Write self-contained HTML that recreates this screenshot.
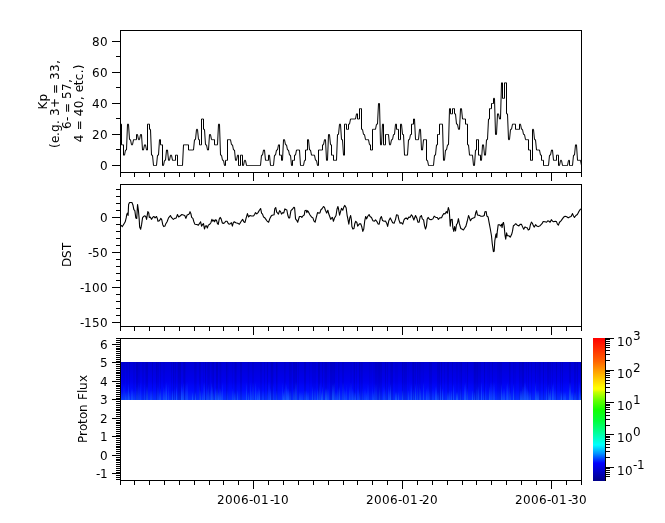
<!DOCTYPE html>
<html><head><meta charset="utf-8"><title>tplot</title><style>html,body{margin:0;padding:0;background:#fff}svg{display:block}</style></head><body>
<svg width="665" height="523" viewBox="0 0 665 523" font-family="DejaVu Sans, Liberation Sans, sans-serif" font-size="12" fill="#000">
<rect width="665" height="523" fill="#fff"/>
<defs><linearGradient id="bg" x1="0" y1="0" x2="0" y2="1"><stop offset="0" stop-color="#0000d4"/><stop offset="0.5" stop-color="#0000ee"/><stop offset="0.75" stop-color="#000cff"/><stop offset="1" stop-color="#0832ff"/></linearGradient><linearGradient id="bl" x1="0" y1="0" x2="0" y2="1"><stop offset="0" stop-color="#1e6eff" stop-opacity="0"/><stop offset="1" stop-color="#1e6eff" stop-opacity="1"/></linearGradient><linearGradient id="cb" x1="0" y1="0" x2="0" y2="1"><stop offset="0" stop-color="#ff0000"/><stop offset="0.085" stop-color="#ff3200"/><stop offset="0.164" stop-color="#ff6400"/><stop offset="0.233" stop-color="#ffa000"/><stop offset="0.30" stop-color="#ffd700"/><stop offset="0.35" stop-color="#ffff00"/><stop offset="0.362" stop-color="#f8ff00"/><stop offset="0.378" stop-color="#c8ff00"/><stop offset="0.43" stop-color="#6eff00"/><stop offset="0.50" stop-color="#14ff00"/><stop offset="0.58" stop-color="#00ff3c"/><stop offset="0.66" stop-color="#00ff96"/><stop offset="0.748" stop-color="#00ffff"/><stop offset="0.806" stop-color="#0096ff"/><stop offset="0.875" stop-color="#0000ff"/><stop offset="1" stop-color="#000087"/></linearGradient></defs>
<g shape-rendering="crispEdges">
<rect x="121" y="362" width="460" height="38" fill="url(#bg)"/>
<rect x="121" y="392" width="1" height="8" fill="url(#bl)" fill-opacity="0.24"/>
<rect x="122" y="362" width="1" height="38" fill="#000" fill-opacity="0.03"/>
<rect x="122" y="392" width="1" height="8" fill="url(#bl)" fill-opacity="0.24"/>
<rect x="123" y="362" width="2" height="38" fill="#000" fill-opacity="0.03"/>
<rect x="123" y="384" width="2" height="16" fill="url(#bl)" fill-opacity="0.26"/>
<rect x="125" y="392" width="1" height="8" fill="url(#bl)" fill-opacity="0.49"/>
<rect x="126" y="362" width="2" height="38" fill="#000" fill-opacity="0.04"/>
<rect x="126" y="390" width="2" height="10" fill="url(#bl)" fill-opacity="0.34"/>
<rect x="128" y="384" width="1" height="16" fill="url(#bl)" fill-opacity="0.61"/>
<rect x="129" y="362" width="1" height="38" fill="#000" fill-opacity="0.07"/>
<rect x="129" y="392" width="1" height="8" fill="url(#bl)" fill-opacity="0.47"/>
<rect x="131" y="388" width="2" height="12" fill="url(#bl)" fill-opacity="0.43"/>
<rect x="133" y="362" width="2" height="38" fill="#000" fill-opacity="0.04"/>
<rect x="133" y="390" width="2" height="10" fill="url(#bl)" fill-opacity="0.24"/>
<rect x="136" y="362" width="2" height="38" fill="#000" fill-opacity="0.11"/>
<rect x="136" y="386" width="2" height="14" fill="url(#bl)" fill-opacity="0.28"/>
<rect x="138" y="362" width="1" height="38" fill="#000" fill-opacity="0.06"/>
<rect x="138" y="382" width="1" height="18" fill="url(#bl)" fill-opacity="0.24"/>
<rect x="139" y="362" width="1" height="38" fill="#000" fill-opacity="0.05"/>
<rect x="139" y="386" width="1" height="14" fill="url(#bl)" fill-opacity="0.23"/>
<rect x="140" y="382" width="1" height="18" fill="url(#bl)" fill-opacity="0.23"/>
<rect x="142" y="362" width="2" height="38" fill="#000" fill-opacity="0.05"/>
<rect x="144" y="384" width="1" height="16" fill="url(#bl)" fill-opacity="0.26"/>
<rect x="145" y="362" width="1" height="38" fill="#000" fill-opacity="0.05"/>
<rect x="146" y="362" width="2" height="38" fill="#000" fill-opacity="0.1"/>
<rect x="146" y="386" width="2" height="14" fill="url(#bl)" fill-opacity="0.4"/>
<rect x="150" y="390" width="2" height="10" fill="url(#bl)" fill-opacity="0.28"/>
<rect x="152" y="362" width="1" height="38" fill="#000" fill-opacity="0.09"/>
<rect x="152" y="388" width="1" height="12" fill="url(#bl)" fill-opacity="0.2"/>
<rect x="156" y="362" width="1" height="38" fill="#000" fill-opacity="0.1"/>
<rect x="157" y="362" width="2" height="38" fill="#000" fill-opacity="0.06"/>
<rect x="157" y="386" width="2" height="14" fill="url(#bl)" fill-opacity="0.23"/>
<rect x="159" y="392" width="1" height="8" fill="url(#bl)" fill-opacity="0.37"/>
<rect x="160" y="362" width="1" height="38" fill="#000" fill-opacity="0.07"/>
<rect x="160" y="388" width="1" height="12" fill="url(#bl)" fill-opacity="0.51"/>
<rect x="163" y="362" width="1" height="38" fill="#000" fill-opacity="0.03"/>
<rect x="163" y="386" width="1" height="14" fill="url(#bl)" fill-opacity="0.44"/>
<rect x="164" y="362" width="1" height="38" fill="#000" fill-opacity="0.03"/>
<rect x="164" y="388" width="1" height="12" fill="url(#bl)" fill-opacity="0.44"/>
<rect x="165" y="384" width="1" height="16" fill="url(#bl)" fill-opacity="0.38"/>
<rect x="166" y="382" width="1" height="18" fill="url(#bl)" fill-opacity="0.63"/>
<rect x="168" y="384" width="1" height="16" fill="url(#bl)" fill-opacity="0.36"/>
<rect x="171" y="362" width="1" height="38" fill="#000" fill-opacity="0.06"/>
<rect x="172" y="390" width="1" height="10" fill="url(#bl)" fill-opacity="0.55"/>
<rect x="173" y="362" width="1" height="38" fill="#000" fill-opacity="0.1"/>
<rect x="174" y="362" width="1" height="38" fill="#000" fill-opacity="0.03"/>
<rect x="174" y="388" width="1" height="12" fill="url(#bl)" fill-opacity="0.3"/>
<rect x="175" y="362" width="1" height="38" fill="#000" fill-opacity="0.08"/>
<rect x="176" y="386" width="1" height="14" fill="url(#bl)" fill-opacity="0.59"/>
<rect x="177" y="362" width="1" height="38" fill="#000" fill-opacity="0.04"/>
<rect x="178" y="362" width="1" height="38" fill="#000" fill-opacity="0.11"/>
<rect x="179" y="362" width="2" height="38" fill="#000" fill-opacity="0.11"/>
<rect x="181" y="384" width="1" height="16" fill="url(#bl)" fill-opacity="0.65"/>
<rect x="182" y="386" width="1" height="14" fill="url(#bl)" fill-opacity="0.53"/>
<rect x="183" y="362" width="1" height="38" fill="#000" fill-opacity="0.07"/>
<rect x="183" y="382" width="1" height="18" fill="url(#bl)" fill-opacity="0.52"/>
<rect x="184" y="362" width="1" height="38" fill="#000" fill-opacity="0.1"/>
<rect x="185" y="362" width="1" height="38" fill="#000" fill-opacity="0.04"/>
<rect x="185" y="384" width="1" height="16" fill="url(#bl)" fill-opacity="0.36"/>
<rect x="186" y="382" width="2" height="18" fill="url(#bl)" fill-opacity="0.38"/>
<rect x="192" y="392" width="1" height="8" fill="url(#bl)" fill-opacity="0.64"/>
<rect x="194" y="362" width="1" height="38" fill="#000" fill-opacity="0.06"/>
<rect x="195" y="362" width="1" height="38" fill="#000" fill-opacity="0.07"/>
<rect x="195" y="392" width="1" height="8" fill="url(#bl)" fill-opacity="0.64"/>
<rect x="196" y="362" width="1" height="38" fill="#000" fill-opacity="0.04"/>
<rect x="199" y="362" width="1" height="38" fill="#000" fill-opacity="0.08"/>
<rect x="199" y="384" width="1" height="16" fill="url(#bl)" fill-opacity="0.3"/>
<rect x="200" y="362" width="1" height="38" fill="#000" fill-opacity="0.07"/>
<rect x="200" y="390" width="1" height="10" fill="url(#bl)" fill-opacity="0.55"/>
<rect x="202" y="392" width="1" height="8" fill="url(#bl)" fill-opacity="0.4"/>
<rect x="203" y="362" width="1" height="38" fill="#000" fill-opacity="0.04"/>
<rect x="203" y="382" width="1" height="18" fill="url(#bl)" fill-opacity="0.35"/>
<rect x="204" y="382" width="1" height="18" fill="url(#bl)" fill-opacity="0.52"/>
<rect x="205" y="362" width="1" height="38" fill="#000" fill-opacity="0.1"/>
<rect x="206" y="386" width="1" height="14" fill="url(#bl)" fill-opacity="0.28"/>
<rect x="207" y="362" width="1" height="38" fill="#000" fill-opacity="0.06"/>
<rect x="207" y="388" width="1" height="12" fill="url(#bl)" fill-opacity="0.41"/>
<rect x="208" y="362" width="1" height="38" fill="#000" fill-opacity="0.08"/>
<rect x="208" y="384" width="1" height="16" fill="url(#bl)" fill-opacity="0.43"/>
<rect x="209" y="362" width="1" height="38" fill="#000" fill-opacity="0.07"/>
<rect x="209" y="392" width="1" height="8" fill="url(#bl)" fill-opacity="0.26"/>
<rect x="210" y="388" width="1" height="12" fill="url(#bl)" fill-opacity="0.34"/>
<rect x="211" y="362" width="1" height="38" fill="#000" fill-opacity="0.03"/>
<rect x="211" y="382" width="1" height="18" fill="url(#bl)" fill-opacity="0.61"/>
<rect x="212" y="362" width="1" height="38" fill="#000" fill-opacity="0.07"/>
<rect x="212" y="386" width="1" height="14" fill="url(#bl)" fill-opacity="0.55"/>
<rect x="213" y="362" width="1" height="38" fill="#000" fill-opacity="0.09"/>
<rect x="213" y="392" width="1" height="8" fill="url(#bl)" fill-opacity="0.33"/>
<rect x="215" y="388" width="1" height="12" fill="url(#bl)" fill-opacity="0.63"/>
<rect x="216" y="362" width="2" height="38" fill="#000" fill-opacity="0.11"/>
<rect x="216" y="388" width="2" height="12" fill="url(#bl)" fill-opacity="0.51"/>
<rect x="218" y="392" width="1" height="8" fill="url(#bl)" fill-opacity="0.68"/>
<rect x="219" y="362" width="1" height="38" fill="#000" fill-opacity="0.04"/>
<rect x="219" y="388" width="1" height="12" fill="url(#bl)" fill-opacity="0.47"/>
<rect x="220" y="362" width="1" height="38" fill="#000" fill-opacity="0.07"/>
<rect x="220" y="388" width="1" height="12" fill="url(#bl)" fill-opacity="0.6"/>
<rect x="221" y="362" width="1" height="38" fill="#000" fill-opacity="0.02"/>
<rect x="221" y="390" width="1" height="10" fill="url(#bl)" fill-opacity="0.46"/>
<rect x="222" y="382" width="1" height="18" fill="url(#bl)" fill-opacity="0.42"/>
<rect x="226" y="362" width="1" height="38" fill="#000" fill-opacity="0.1"/>
<rect x="227" y="362" width="1" height="38" fill="#000" fill-opacity="0.05"/>
<rect x="227" y="390" width="1" height="10" fill="url(#bl)" fill-opacity="0.21"/>
<rect x="228" y="362" width="1" height="38" fill="#000" fill-opacity="0.02"/>
<rect x="232" y="362" width="1" height="38" fill="#000" fill-opacity="0.03"/>
<rect x="232" y="388" width="1" height="12" fill="url(#bl)" fill-opacity="0.38"/>
<rect x="233" y="390" width="1" height="10" fill="url(#bl)" fill-opacity="0.22"/>
<rect x="234" y="362" width="1" height="38" fill="#000" fill-opacity="0.04"/>
<rect x="234" y="392" width="1" height="8" fill="url(#bl)" fill-opacity="0.44"/>
<rect x="235" y="362" width="1" height="38" fill="#000" fill-opacity="0.09"/>
<rect x="235" y="392" width="1" height="8" fill="url(#bl)" fill-opacity="0.27"/>
<rect x="236" y="362" width="1" height="38" fill="#000" fill-opacity="0.05"/>
<rect x="237" y="390" width="1" height="10" fill="url(#bl)" fill-opacity="0.53"/>
<rect x="240" y="362" width="2" height="38" fill="#000" fill-opacity="0.09"/>
<rect x="246" y="382" width="1" height="18" fill="url(#bl)" fill-opacity="0.54"/>
<rect x="247" y="362" width="1" height="38" fill="#000" fill-opacity="0.02"/>
<rect x="248" y="362" width="1" height="38" fill="#000" fill-opacity="0.06"/>
<rect x="248" y="392" width="1" height="8" fill="url(#bl)" fill-opacity="0.51"/>
<rect x="249" y="362" width="1" height="38" fill="#000" fill-opacity="0.02"/>
<rect x="250" y="382" width="1" height="18" fill="url(#bl)" fill-opacity="0.44"/>
<rect x="251" y="390" width="1" height="10" fill="url(#bl)" fill-opacity="0.32"/>
<rect x="252" y="362" width="2" height="38" fill="#000" fill-opacity="0.05"/>
<rect x="252" y="382" width="2" height="18" fill="url(#bl)" fill-opacity="0.34"/>
<rect x="255" y="382" width="1" height="18" fill="url(#bl)" fill-opacity="0.57"/>
<rect x="256" y="386" width="1" height="14" fill="url(#bl)" fill-opacity="0.23"/>
<rect x="257" y="390" width="1" height="10" fill="url(#bl)" fill-opacity="0.54"/>
<rect x="258" y="386" width="1" height="14" fill="url(#bl)" fill-opacity="0.43"/>
<rect x="259" y="388" width="1" height="12" fill="url(#bl)" fill-opacity="0.69"/>
<rect x="260" y="362" width="2" height="38" fill="#000" fill-opacity="0.06"/>
<rect x="262" y="390" width="2" height="10" fill="url(#bl)" fill-opacity="0.24"/>
<rect x="264" y="362" width="1" height="38" fill="#000" fill-opacity="0.07"/>
<rect x="267" y="362" width="1" height="38" fill="#000" fill-opacity="0.1"/>
<rect x="267" y="390" width="1" height="10" fill="url(#bl)" fill-opacity="0.2"/>
<rect x="268" y="382" width="2" height="18" fill="url(#bl)" fill-opacity="0.27"/>
<rect x="270" y="362" width="1" height="38" fill="#000" fill-opacity="0.03"/>
<rect x="270" y="388" width="1" height="12" fill="url(#bl)" fill-opacity="0.58"/>
<rect x="271" y="362" width="2" height="38" fill="#000" fill-opacity="0.1"/>
<rect x="273" y="362" width="1" height="38" fill="#000" fill-opacity="0.03"/>
<rect x="273" y="384" width="1" height="16" fill="url(#bl)" fill-opacity="0.24"/>
<rect x="276" y="362" width="1" height="38" fill="#000" fill-opacity="0.1"/>
<rect x="276" y="390" width="1" height="10" fill="url(#bl)" fill-opacity="0.32"/>
<rect x="277" y="362" width="1" height="38" fill="#000" fill-opacity="0.05"/>
<rect x="282" y="382" width="1" height="18" fill="url(#bl)" fill-opacity="0.41"/>
<rect x="283" y="392" width="1" height="8" fill="url(#bl)" fill-opacity="0.66"/>
<rect x="284" y="362" width="1" height="38" fill="#000" fill-opacity="0.06"/>
<rect x="284" y="388" width="1" height="12" fill="url(#bl)" fill-opacity="0.57"/>
<rect x="285" y="362" width="1" height="38" fill="#000" fill-opacity="0.04"/>
<rect x="285" y="382" width="1" height="18" fill="url(#bl)" fill-opacity="0.4"/>
<rect x="286" y="384" width="1" height="16" fill="url(#bl)" fill-opacity="0.65"/>
<rect x="287" y="388" width="2" height="12" fill="url(#bl)" fill-opacity="0.7"/>
<rect x="289" y="362" width="2" height="38" fill="#000" fill-opacity="0.07"/>
<rect x="289" y="390" width="2" height="10" fill="url(#bl)" fill-opacity="0.37"/>
<rect x="291" y="362" width="1" height="38" fill="#000" fill-opacity="0.05"/>
<rect x="293" y="362" width="2" height="38" fill="#000" fill-opacity="0.09"/>
<rect x="293" y="388" width="2" height="12" fill="url(#bl)" fill-opacity="0.37"/>
<rect x="295" y="362" width="1" height="38" fill="#000" fill-opacity="0.07"/>
<rect x="295" y="382" width="1" height="18" fill="url(#bl)" fill-opacity="0.45"/>
<rect x="296" y="362" width="1" height="38" fill="#000" fill-opacity="0.1"/>
<rect x="296" y="382" width="1" height="18" fill="url(#bl)" fill-opacity="0.42"/>
<rect x="298" y="362" width="1" height="38" fill="#000" fill-opacity="0.06"/>
<rect x="299" y="392" width="2" height="8" fill="url(#bl)" fill-opacity="0.4"/>
<rect x="301" y="392" width="2" height="8" fill="url(#bl)" fill-opacity="0.31"/>
<rect x="304" y="362" width="2" height="38" fill="#000" fill-opacity="0.09"/>
<rect x="304" y="390" width="2" height="10" fill="url(#bl)" fill-opacity="0.32"/>
<rect x="306" y="390" width="1" height="10" fill="url(#bl)" fill-opacity="0.51"/>
<rect x="307" y="392" width="2" height="8" fill="url(#bl)" fill-opacity="0.35"/>
<rect x="309" y="362" width="1" height="38" fill="#000" fill-opacity="0.04"/>
<rect x="312" y="362" width="1" height="38" fill="#000" fill-opacity="0.04"/>
<rect x="312" y="386" width="1" height="14" fill="url(#bl)" fill-opacity="0.55"/>
<rect x="313" y="362" width="1" height="38" fill="#000" fill-opacity="0.04"/>
<rect x="314" y="362" width="2" height="38" fill="#000" fill-opacity="0.04"/>
<rect x="314" y="388" width="2" height="12" fill="url(#bl)" fill-opacity="0.31"/>
<rect x="317" y="388" width="1" height="12" fill="url(#bl)" fill-opacity="0.57"/>
<rect x="318" y="362" width="1" height="38" fill="#000" fill-opacity="0.11"/>
<rect x="318" y="390" width="1" height="10" fill="url(#bl)" fill-opacity="0.32"/>
<rect x="319" y="362" width="1" height="38" fill="#000" fill-opacity="0.1"/>
<rect x="319" y="384" width="1" height="16" fill="url(#bl)" fill-opacity="0.45"/>
<rect x="320" y="382" width="1" height="18" fill="url(#bl)" fill-opacity="0.23"/>
<rect x="321" y="392" width="1" height="8" fill="url(#bl)" fill-opacity="0.69"/>
<rect x="322" y="362" width="1" height="38" fill="#000" fill-opacity="0.08"/>
<rect x="322" y="386" width="1" height="14" fill="url(#bl)" fill-opacity="0.65"/>
<rect x="324" y="362" width="1" height="38" fill="#000" fill-opacity="0.04"/>
<rect x="325" y="362" width="2" height="38" fill="#000" fill-opacity="0.08"/>
<rect x="325" y="388" width="2" height="12" fill="url(#bl)" fill-opacity="0.69"/>
<rect x="327" y="362" width="2" height="38" fill="#000" fill-opacity="0.02"/>
<rect x="327" y="388" width="2" height="12" fill="url(#bl)" fill-opacity="0.41"/>
<rect x="330" y="362" width="2" height="38" fill="#000" fill-opacity="0.09"/>
<rect x="332" y="362" width="2" height="38" fill="#000" fill-opacity="0.08"/>
<rect x="332" y="384" width="2" height="16" fill="url(#bl)" fill-opacity="0.66"/>
<rect x="334" y="362" width="1" height="38" fill="#000" fill-opacity="0.09"/>
<rect x="334" y="382" width="1" height="18" fill="url(#bl)" fill-opacity="0.41"/>
<rect x="335" y="362" width="2" height="38" fill="#000" fill-opacity="0.02"/>
<rect x="335" y="392" width="2" height="8" fill="url(#bl)" fill-opacity="0.33"/>
<rect x="337" y="388" width="1" height="12" fill="url(#bl)" fill-opacity="0.37"/>
<rect x="338" y="362" width="1" height="38" fill="#000" fill-opacity="0.08"/>
<rect x="338" y="388" width="1" height="12" fill="url(#bl)" fill-opacity="0.35"/>
<rect x="339" y="362" width="1" height="38" fill="#000" fill-opacity="0.04"/>
<rect x="339" y="386" width="1" height="14" fill="url(#bl)" fill-opacity="0.68"/>
<rect x="342" y="362" width="2" height="38" fill="#000" fill-opacity="0.06"/>
<rect x="342" y="382" width="2" height="18" fill="url(#bl)" fill-opacity="0.35"/>
<rect x="344" y="388" width="1" height="12" fill="url(#bl)" fill-opacity="0.43"/>
<rect x="345" y="390" width="1" height="10" fill="url(#bl)" fill-opacity="0.32"/>
<rect x="346" y="384" width="1" height="16" fill="url(#bl)" fill-opacity="0.36"/>
<rect x="349" y="386" width="1" height="14" fill="url(#bl)" fill-opacity="0.45"/>
<rect x="350" y="362" width="2" height="38" fill="#000" fill-opacity="0.03"/>
<rect x="350" y="382" width="2" height="18" fill="url(#bl)" fill-opacity="0.32"/>
<rect x="352" y="388" width="1" height="12" fill="url(#bl)" fill-opacity="0.48"/>
<rect x="353" y="362" width="1" height="38" fill="#000" fill-opacity="0.04"/>
<rect x="353" y="390" width="1" height="10" fill="url(#bl)" fill-opacity="0.32"/>
<rect x="354" y="362" width="1" height="38" fill="#000" fill-opacity="0.1"/>
<rect x="354" y="392" width="1" height="8" fill="url(#bl)" fill-opacity="0.4"/>
<rect x="355" y="392" width="1" height="8" fill="url(#bl)" fill-opacity="0.53"/>
<rect x="356" y="362" width="1" height="38" fill="#000" fill-opacity="0.06"/>
<rect x="357" y="388" width="2" height="12" fill="url(#bl)" fill-opacity="0.32"/>
<rect x="359" y="362" width="1" height="38" fill="#000" fill-opacity="0.11"/>
<rect x="359" y="392" width="1" height="8" fill="url(#bl)" fill-opacity="0.39"/>
<rect x="360" y="362" width="1" height="38" fill="#000" fill-opacity="0.04"/>
<rect x="361" y="362" width="1" height="38" fill="#000" fill-opacity="0.07"/>
<rect x="362" y="362" width="1" height="38" fill="#000" fill-opacity="0.05"/>
<rect x="362" y="388" width="1" height="12" fill="url(#bl)" fill-opacity="0.22"/>
<rect x="364" y="388" width="2" height="12" fill="url(#bl)" fill-opacity="0.24"/>
<rect x="366" y="392" width="1" height="8" fill="url(#bl)" fill-opacity="0.4"/>
<rect x="367" y="384" width="2" height="16" fill="url(#bl)" fill-opacity="0.25"/>
<rect x="369" y="362" width="1" height="38" fill="#000" fill-opacity="0.04"/>
<rect x="370" y="362" width="1" height="38" fill="#000" fill-opacity="0.02"/>
<rect x="371" y="362" width="1" height="38" fill="#000" fill-opacity="0.02"/>
<rect x="372" y="386" width="1" height="14" fill="url(#bl)" fill-opacity="0.3"/>
<rect x="373" y="362" width="1" height="38" fill="#000" fill-opacity="0.03"/>
<rect x="373" y="392" width="1" height="8" fill="url(#bl)" fill-opacity="0.4"/>
<rect x="374" y="362" width="1" height="38" fill="#000" fill-opacity="0.03"/>
<rect x="374" y="384" width="1" height="16" fill="url(#bl)" fill-opacity="0.27"/>
<rect x="375" y="362" width="2" height="38" fill="#000" fill-opacity="0.08"/>
<rect x="375" y="384" width="2" height="16" fill="url(#bl)" fill-opacity="0.29"/>
<rect x="377" y="362" width="1" height="38" fill="#000" fill-opacity="0.07"/>
<rect x="378" y="362" width="1" height="38" fill="#000" fill-opacity="0.09"/>
<rect x="379" y="362" width="1" height="38" fill="#000" fill-opacity="0.1"/>
<rect x="379" y="386" width="1" height="14" fill="url(#bl)" fill-opacity="0.36"/>
<rect x="380" y="362" width="2" height="38" fill="#000" fill-opacity="0.08"/>
<rect x="383" y="386" width="2" height="14" fill="url(#bl)" fill-opacity="0.29"/>
<rect x="385" y="362" width="1" height="38" fill="#000" fill-opacity="0.1"/>
<rect x="385" y="388" width="1" height="12" fill="url(#bl)" fill-opacity="0.26"/>
<rect x="387" y="362" width="1" height="38" fill="#000" fill-opacity="0.07"/>
<rect x="388" y="386" width="1" height="14" fill="url(#bl)" fill-opacity="0.5"/>
<rect x="389" y="390" width="1" height="10" fill="url(#bl)" fill-opacity="0.41"/>
<rect x="390" y="362" width="1" height="38" fill="#000" fill-opacity="0.06"/>
<rect x="390" y="384" width="1" height="16" fill="url(#bl)" fill-opacity="0.69"/>
<rect x="391" y="362" width="2" height="38" fill="#000" fill-opacity="0.09"/>
<rect x="395" y="362" width="2" height="38" fill="#000" fill-opacity="0.03"/>
<rect x="395" y="392" width="2" height="8" fill="url(#bl)" fill-opacity="0.6"/>
<rect x="397" y="362" width="1" height="38" fill="#000" fill-opacity="0.03"/>
<rect x="398" y="392" width="1" height="8" fill="url(#bl)" fill-opacity="0.58"/>
<rect x="402" y="362" width="1" height="38" fill="#000" fill-opacity="0.11"/>
<rect x="402" y="390" width="1" height="10" fill="url(#bl)" fill-opacity="0.54"/>
<rect x="403" y="362" width="1" height="38" fill="#000" fill-opacity="0.05"/>
<rect x="404" y="362" width="1" height="38" fill="#000" fill-opacity="0.08"/>
<rect x="405" y="362" width="2" height="38" fill="#000" fill-opacity="0.07"/>
<rect x="408" y="362" width="1" height="38" fill="#000" fill-opacity="0.02"/>
<rect x="408" y="390" width="1" height="10" fill="url(#bl)" fill-opacity="0.52"/>
<rect x="410" y="384" width="1" height="16" fill="url(#bl)" fill-opacity="0.22"/>
<rect x="411" y="384" width="1" height="16" fill="url(#bl)" fill-opacity="0.49"/>
<rect x="412" y="362" width="1" height="38" fill="#000" fill-opacity="0.07"/>
<rect x="413" y="362" width="1" height="38" fill="#000" fill-opacity="0.11"/>
<rect x="413" y="388" width="1" height="12" fill="url(#bl)" fill-opacity="0.37"/>
<rect x="414" y="362" width="1" height="38" fill="#000" fill-opacity="0.04"/>
<rect x="415" y="362" width="1" height="38" fill="#000" fill-opacity="0.07"/>
<rect x="415" y="384" width="1" height="16" fill="url(#bl)" fill-opacity="0.66"/>
<rect x="417" y="362" width="1" height="38" fill="#000" fill-opacity="0.08"/>
<rect x="417" y="384" width="1" height="16" fill="url(#bl)" fill-opacity="0.38"/>
<rect x="418" y="362" width="1" height="38" fill="#000" fill-opacity="0.04"/>
<rect x="419" y="362" width="1" height="38" fill="#000" fill-opacity="0.07"/>
<rect x="419" y="384" width="1" height="16" fill="url(#bl)" fill-opacity="0.38"/>
<rect x="420" y="362" width="1" height="38" fill="#000" fill-opacity="0.05"/>
<rect x="420" y="388" width="1" height="12" fill="url(#bl)" fill-opacity="0.51"/>
<rect x="421" y="362" width="2" height="38" fill="#000" fill-opacity="0.02"/>
<rect x="423" y="362" width="1" height="38" fill="#000" fill-opacity="0.03"/>
<rect x="423" y="382" width="1" height="18" fill="url(#bl)" fill-opacity="0.59"/>
<rect x="426" y="388" width="1" height="12" fill="url(#bl)" fill-opacity="0.5"/>
<rect x="427" y="386" width="2" height="14" fill="url(#bl)" fill-opacity="0.32"/>
<rect x="429" y="362" width="1" height="38" fill="#000" fill-opacity="0.07"/>
<rect x="429" y="390" width="1" height="10" fill="url(#bl)" fill-opacity="0.28"/>
<rect x="430" y="362" width="1" height="38" fill="#000" fill-opacity="0.07"/>
<rect x="431" y="362" width="1" height="38" fill="#000" fill-opacity="0.07"/>
<rect x="432" y="388" width="2" height="12" fill="url(#bl)" fill-opacity="0.23"/>
<rect x="435" y="386" width="2" height="14" fill="url(#bl)" fill-opacity="0.57"/>
<rect x="437" y="362" width="2" height="38" fill="#000" fill-opacity="0.08"/>
<rect x="437" y="392" width="2" height="8" fill="url(#bl)" fill-opacity="0.33"/>
<rect x="439" y="362" width="1" height="38" fill="#000" fill-opacity="0.1"/>
<rect x="440" y="384" width="1" height="16" fill="url(#bl)" fill-opacity="0.54"/>
<rect x="441" y="362" width="1" height="38" fill="#000" fill-opacity="0.1"/>
<rect x="442" y="388" width="1" height="12" fill="url(#bl)" fill-opacity="0.65"/>
<rect x="444" y="362" width="1" height="38" fill="#000" fill-opacity="0.05"/>
<rect x="447" y="362" width="2" height="38" fill="#000" fill-opacity="0.07"/>
<rect x="447" y="392" width="2" height="8" fill="url(#bl)" fill-opacity="0.42"/>
<rect x="449" y="390" width="1" height="10" fill="url(#bl)" fill-opacity="0.4"/>
<rect x="450" y="392" width="1" height="8" fill="url(#bl)" fill-opacity="0.21"/>
<rect x="451" y="390" width="1" height="10" fill="url(#bl)" fill-opacity="0.55"/>
<rect x="452" y="362" width="1" height="38" fill="#000" fill-opacity="0.08"/>
<rect x="453" y="384" width="1" height="16" fill="url(#bl)" fill-opacity="0.58"/>
<rect x="456" y="362" width="2" height="38" fill="#000" fill-opacity="0.04"/>
<rect x="456" y="392" width="2" height="8" fill="url(#bl)" fill-opacity="0.67"/>
<rect x="459" y="362" width="1" height="38" fill="#000" fill-opacity="0.03"/>
<rect x="460" y="362" width="1" height="38" fill="#000" fill-opacity="0.05"/>
<rect x="460" y="388" width="1" height="12" fill="url(#bl)" fill-opacity="0.33"/>
<rect x="461" y="362" width="1" height="38" fill="#000" fill-opacity="0.09"/>
<rect x="464" y="384" width="1" height="16" fill="url(#bl)" fill-opacity="0.59"/>
<rect x="465" y="362" width="1" height="38" fill="#000" fill-opacity="0.02"/>
<rect x="465" y="382" width="1" height="18" fill="url(#bl)" fill-opacity="0.63"/>
<rect x="466" y="386" width="1" height="14" fill="url(#bl)" fill-opacity="0.2"/>
<rect x="467" y="362" width="1" height="38" fill="#000" fill-opacity="0.09"/>
<rect x="467" y="388" width="1" height="12" fill="url(#bl)" fill-opacity="0.45"/>
<rect x="472" y="390" width="1" height="10" fill="url(#bl)" fill-opacity="0.67"/>
<rect x="473" y="362" width="1" height="38" fill="#000" fill-opacity="0.03"/>
<rect x="474" y="362" width="1" height="38" fill="#000" fill-opacity="0.11"/>
<rect x="474" y="392" width="1" height="8" fill="url(#bl)" fill-opacity="0.51"/>
<rect x="475" y="362" width="1" height="38" fill="#000" fill-opacity="0.1"/>
<rect x="476" y="362" width="1" height="38" fill="#000" fill-opacity="0.08"/>
<rect x="476" y="388" width="1" height="12" fill="url(#bl)" fill-opacity="0.33"/>
<rect x="477" y="362" width="1" height="38" fill="#000" fill-opacity="0.1"/>
<rect x="477" y="386" width="1" height="14" fill="url(#bl)" fill-opacity="0.26"/>
<rect x="478" y="362" width="1" height="38" fill="#000" fill-opacity="0.05"/>
<rect x="478" y="386" width="1" height="14" fill="url(#bl)" fill-opacity="0.53"/>
<rect x="479" y="362" width="1" height="38" fill="#000" fill-opacity="0.06"/>
<rect x="480" y="362" width="1" height="38" fill="#000" fill-opacity="0.06"/>
<rect x="481" y="382" width="1" height="18" fill="url(#bl)" fill-opacity="0.61"/>
<rect x="483" y="390" width="1" height="10" fill="url(#bl)" fill-opacity="0.36"/>
<rect x="484" y="362" width="1" height="38" fill="#000" fill-opacity="0.11"/>
<rect x="485" y="386" width="1" height="14" fill="url(#bl)" fill-opacity="0.28"/>
<rect x="487" y="362" width="2" height="38" fill="#000" fill-opacity="0.03"/>
<rect x="489" y="362" width="1" height="38" fill="#000" fill-opacity="0.05"/>
<rect x="489" y="386" width="1" height="14" fill="url(#bl)" fill-opacity="0.63"/>
<rect x="490" y="382" width="2" height="18" fill="url(#bl)" fill-opacity="0.35"/>
<rect x="492" y="362" width="1" height="38" fill="#000" fill-opacity="0.07"/>
<rect x="492" y="382" width="1" height="18" fill="url(#bl)" fill-opacity="0.32"/>
<rect x="493" y="382" width="2" height="18" fill="url(#bl)" fill-opacity="0.41"/>
<rect x="497" y="362" width="2" height="38" fill="#000" fill-opacity="0.04"/>
<rect x="499" y="362" width="2" height="38" fill="#000" fill-opacity="0.06"/>
<rect x="501" y="362" width="1" height="38" fill="#000" fill-opacity="0.06"/>
<rect x="501" y="384" width="1" height="16" fill="url(#bl)" fill-opacity="0.63"/>
<rect x="502" y="392" width="1" height="8" fill="url(#bl)" fill-opacity="0.39"/>
<rect x="503" y="388" width="2" height="12" fill="url(#bl)" fill-opacity="0.47"/>
<rect x="506" y="384" width="1" height="16" fill="url(#bl)" fill-opacity="0.43"/>
<rect x="507" y="382" width="1" height="18" fill="url(#bl)" fill-opacity="0.6"/>
<rect x="508" y="386" width="1" height="14" fill="url(#bl)" fill-opacity="0.31"/>
<rect x="509" y="362" width="1" height="38" fill="#000" fill-opacity="0.09"/>
<rect x="509" y="384" width="1" height="16" fill="url(#bl)" fill-opacity="0.38"/>
<rect x="510" y="362" width="1" height="38" fill="#000" fill-opacity="0.05"/>
<rect x="510" y="392" width="1" height="8" fill="url(#bl)" fill-opacity="0.41"/>
<rect x="513" y="362" width="1" height="38" fill="#000" fill-opacity="0.05"/>
<rect x="513" y="384" width="1" height="16" fill="url(#bl)" fill-opacity="0.69"/>
<rect x="514" y="362" width="2" height="38" fill="#000" fill-opacity="0.03"/>
<rect x="519" y="362" width="1" height="38" fill="#000" fill-opacity="0.08"/>
<rect x="520" y="362" width="2" height="38" fill="#000" fill-opacity="0.05"/>
<rect x="520" y="390" width="2" height="10" fill="url(#bl)" fill-opacity="0.59"/>
<rect x="522" y="362" width="2" height="38" fill="#000" fill-opacity="0.1"/>
<rect x="522" y="386" width="2" height="14" fill="url(#bl)" fill-opacity="0.54"/>
<rect x="524" y="382" width="2" height="18" fill="url(#bl)" fill-opacity="0.6"/>
<rect x="526" y="362" width="1" height="38" fill="#000" fill-opacity="0.05"/>
<rect x="526" y="386" width="1" height="14" fill="url(#bl)" fill-opacity="0.51"/>
<rect x="527" y="388" width="1" height="12" fill="url(#bl)" fill-opacity="0.63"/>
<rect x="528" y="362" width="1" height="38" fill="#000" fill-opacity="0.07"/>
<rect x="528" y="390" width="1" height="10" fill="url(#bl)" fill-opacity="0.47"/>
<rect x="529" y="392" width="1" height="8" fill="url(#bl)" fill-opacity="0.3"/>
<rect x="530" y="392" width="1" height="8" fill="url(#bl)" fill-opacity="0.49"/>
<rect x="531" y="362" width="1" height="38" fill="#000" fill-opacity="0.06"/>
<rect x="535" y="362" width="1" height="38" fill="#000" fill-opacity="0.08"/>
<rect x="535" y="382" width="1" height="18" fill="url(#bl)" fill-opacity="0.62"/>
<rect x="536" y="390" width="1" height="10" fill="url(#bl)" fill-opacity="0.61"/>
<rect x="537" y="362" width="2" height="38" fill="#000" fill-opacity="0.03"/>
<rect x="537" y="390" width="2" height="10" fill="url(#bl)" fill-opacity="0.55"/>
<rect x="539" y="362" width="1" height="38" fill="#000" fill-opacity="0.07"/>
<rect x="540" y="362" width="1" height="38" fill="#000" fill-opacity="0.05"/>
<rect x="543" y="362" width="1" height="38" fill="#000" fill-opacity="0.11"/>
<rect x="545" y="362" width="1" height="38" fill="#000" fill-opacity="0.02"/>
<rect x="546" y="386" width="1" height="14" fill="url(#bl)" fill-opacity="0.44"/>
<rect x="547" y="362" width="1" height="38" fill="#000" fill-opacity="0.08"/>
<rect x="548" y="362" width="1" height="38" fill="#000" fill-opacity="0.08"/>
<rect x="548" y="384" width="1" height="16" fill="url(#bl)" fill-opacity="0.48"/>
<rect x="549" y="362" width="1" height="38" fill="#000" fill-opacity="0.05"/>
<rect x="549" y="392" width="1" height="8" fill="url(#bl)" fill-opacity="0.61"/>
<rect x="550" y="362" width="1" height="38" fill="#000" fill-opacity="0.06"/>
<rect x="550" y="388" width="1" height="12" fill="url(#bl)" fill-opacity="0.64"/>
<rect x="552" y="362" width="1" height="38" fill="#000" fill-opacity="0.05"/>
<rect x="552" y="384" width="1" height="16" fill="url(#bl)" fill-opacity="0.69"/>
<rect x="553" y="382" width="1" height="18" fill="url(#bl)" fill-opacity="0.48"/>
<rect x="554" y="388" width="2" height="12" fill="url(#bl)" fill-opacity="0.25"/>
<rect x="556" y="362" width="1" height="38" fill="#000" fill-opacity="0.1"/>
<rect x="560" y="362" width="1" height="38" fill="#000" fill-opacity="0.08"/>
<rect x="560" y="390" width="1" height="10" fill="url(#bl)" fill-opacity="0.25"/>
<rect x="561" y="392" width="1" height="8" fill="url(#bl)" fill-opacity="0.66"/>
<rect x="562" y="362" width="1" height="38" fill="#000" fill-opacity="0.09"/>
<rect x="563" y="392" width="1" height="8" fill="url(#bl)" fill-opacity="0.36"/>
<rect x="564" y="392" width="2" height="8" fill="url(#bl)" fill-opacity="0.45"/>
<rect x="569" y="362" width="2" height="38" fill="#000" fill-opacity="0.08"/>
<rect x="569" y="382" width="2" height="18" fill="url(#bl)" fill-opacity="0.69"/>
<rect x="571" y="392" width="2" height="8" fill="url(#bl)" fill-opacity="0.52"/>
<rect x="574" y="362" width="2" height="38" fill="#000" fill-opacity="0.08"/>
<rect x="574" y="392" width="2" height="8" fill="url(#bl)" fill-opacity="0.31"/>
<rect x="576" y="362" width="1" height="38" fill="#000" fill-opacity="0.02"/>
<rect x="577" y="362" width="1" height="38" fill="#000" fill-opacity="0.09"/>
<rect x="579" y="382" width="1" height="18" fill="url(#bl)" fill-opacity="0.48"/>
<rect x="580" y="362" width="1" height="38" fill="#000" fill-opacity="0.1"/>
<rect x="580" y="392" width="1" height="8" fill="url(#bl)" fill-opacity="0.56"/>
<rect x="593" y="338" width="12" height="143" fill="url(#cb)"/>
<rect x="605" y="338" width="1" height="143" fill="#000"/>
<rect x="606" y="476" width="4" height="1" fill="#000"/>
<rect x="606" y="474" width="4" height="1" fill="#000"/>
<rect x="606" y="472" width="4" height="1" fill="#000"/>
<rect x="606" y="470" width="4" height="1" fill="#000"/>
<rect x="606" y="468" width="4" height="1" fill="#000"/>
<rect x="606" y="467" width="8" height="1" fill="#000"/>
<rect x="606" y="457" width="4" height="1" fill="#000"/>
<rect x="606" y="451" width="4" height="1" fill="#000"/>
<rect x="606" y="447" width="4" height="1" fill="#000"/>
<rect x="606" y="444" width="4" height="1" fill="#000"/>
<rect x="606" y="441" width="4" height="1" fill="#000"/>
<rect x="606" y="439" width="4" height="1" fill="#000"/>
<rect x="606" y="437" width="4" height="1" fill="#000"/>
<rect x="606" y="436" width="4" height="1" fill="#000"/>
<rect x="606" y="434" width="8" height="1" fill="#000"/>
<rect x="606" y="425" width="4" height="1" fill="#000"/>
<rect x="606" y="419" width="4" height="1" fill="#000"/>
<rect x="606" y="415" width="4" height="1" fill="#000"/>
<rect x="606" y="412" width="4" height="1" fill="#000"/>
<rect x="606" y="409" width="4" height="1" fill="#000"/>
<rect x="606" y="407" width="4" height="1" fill="#000"/>
<rect x="606" y="405" width="4" height="1" fill="#000"/>
<rect x="606" y="404" width="4" height="1" fill="#000"/>
<rect x="606" y="402" width="8" height="1" fill="#000"/>
<rect x="606" y="392" width="4" height="1" fill="#000"/>
<rect x="606" y="387" width="4" height="1" fill="#000"/>
<rect x="606" y="383" width="4" height="1" fill="#000"/>
<rect x="606" y="380" width="4" height="1" fill="#000"/>
<rect x="606" y="377" width="4" height="1" fill="#000"/>
<rect x="606" y="375" width="4" height="1" fill="#000"/>
<rect x="606" y="373" width="4" height="1" fill="#000"/>
<rect x="606" y="371" width="4" height="1" fill="#000"/>
<rect x="606" y="370" width="8" height="1" fill="#000"/>
<rect x="606" y="360" width="4" height="1" fill="#000"/>
<rect x="606" y="354" width="4" height="1" fill="#000"/>
<rect x="606" y="350" width="4" height="1" fill="#000"/>
<rect x="606" y="347" width="4" height="1" fill="#000"/>
<rect x="606" y="345" width="4" height="1" fill="#000"/>
<rect x="606" y="343" width="4" height="1" fill="#000"/>
<rect x="606" y="341" width="4" height="1" fill="#000"/>
<rect x="606" y="339" width="4" height="1" fill="#000"/>
<rect x="606" y="338" width="8" height="1" fill="#000"/>
<rect x="120" y="30" width="462" height="1" fill="#000"/>
<rect x="120" y="172" width="462" height="1" fill="#000"/>
<rect x="120" y="30" width="1" height="143" fill="#000"/>
<rect x="581" y="30" width="1" height="143" fill="#000"/>
<rect x="120" y="173" width="1" height="4" fill="#000"/>
<rect x="134" y="173" width="1" height="4" fill="#000"/>
<rect x="149" y="173" width="1" height="4" fill="#000"/>
<rect x="164" y="173" width="1" height="4" fill="#000"/>
<rect x="179" y="173" width="1" height="4" fill="#000"/>
<rect x="194" y="173" width="1" height="4" fill="#000"/>
<rect x="209" y="173" width="1" height="4" fill="#000"/>
<rect x="223" y="173" width="1" height="4" fill="#000"/>
<rect x="238" y="173" width="1" height="4" fill="#000"/>
<rect x="253" y="173" width="1" height="8" fill="#000"/>
<rect x="268" y="173" width="1" height="4" fill="#000"/>
<rect x="283" y="173" width="1" height="4" fill="#000"/>
<rect x="298" y="173" width="1" height="4" fill="#000"/>
<rect x="313" y="173" width="1" height="4" fill="#000"/>
<rect x="328" y="173" width="1" height="4" fill="#000"/>
<rect x="343" y="173" width="1" height="4" fill="#000"/>
<rect x="357" y="173" width="1" height="4" fill="#000"/>
<rect x="372" y="173" width="1" height="4" fill="#000"/>
<rect x="387" y="173" width="1" height="4" fill="#000"/>
<rect x="402" y="173" width="1" height="8" fill="#000"/>
<rect x="417" y="173" width="1" height="4" fill="#000"/>
<rect x="432" y="173" width="1" height="4" fill="#000"/>
<rect x="447" y="173" width="1" height="4" fill="#000"/>
<rect x="462" y="173" width="1" height="4" fill="#000"/>
<rect x="476" y="173" width="1" height="4" fill="#000"/>
<rect x="491" y="173" width="1" height="4" fill="#000"/>
<rect x="506" y="173" width="1" height="4" fill="#000"/>
<rect x="521" y="173" width="1" height="4" fill="#000"/>
<rect x="536" y="173" width="1" height="4" fill="#000"/>
<rect x="551" y="173" width="1" height="8" fill="#000"/>
<rect x="566" y="173" width="1" height="4" fill="#000"/>
<rect x="581" y="173" width="1" height="4" fill="#000"/>
<rect x="120" y="184" width="462" height="1" fill="#000"/>
<rect x="120" y="326" width="462" height="1" fill="#000"/>
<rect x="120" y="184" width="1" height="143" fill="#000"/>
<rect x="581" y="184" width="1" height="143" fill="#000"/>
<rect x="120" y="327" width="1" height="4" fill="#000"/>
<rect x="134" y="327" width="1" height="4" fill="#000"/>
<rect x="149" y="327" width="1" height="4" fill="#000"/>
<rect x="164" y="327" width="1" height="4" fill="#000"/>
<rect x="179" y="327" width="1" height="4" fill="#000"/>
<rect x="194" y="327" width="1" height="4" fill="#000"/>
<rect x="209" y="327" width="1" height="4" fill="#000"/>
<rect x="223" y="327" width="1" height="4" fill="#000"/>
<rect x="238" y="327" width="1" height="4" fill="#000"/>
<rect x="253" y="327" width="1" height="8" fill="#000"/>
<rect x="268" y="327" width="1" height="4" fill="#000"/>
<rect x="283" y="327" width="1" height="4" fill="#000"/>
<rect x="298" y="327" width="1" height="4" fill="#000"/>
<rect x="313" y="327" width="1" height="4" fill="#000"/>
<rect x="328" y="327" width="1" height="4" fill="#000"/>
<rect x="343" y="327" width="1" height="4" fill="#000"/>
<rect x="357" y="327" width="1" height="4" fill="#000"/>
<rect x="372" y="327" width="1" height="4" fill="#000"/>
<rect x="387" y="327" width="1" height="4" fill="#000"/>
<rect x="402" y="327" width="1" height="8" fill="#000"/>
<rect x="417" y="327" width="1" height="4" fill="#000"/>
<rect x="432" y="327" width="1" height="4" fill="#000"/>
<rect x="447" y="327" width="1" height="4" fill="#000"/>
<rect x="462" y="327" width="1" height="4" fill="#000"/>
<rect x="476" y="327" width="1" height="4" fill="#000"/>
<rect x="491" y="327" width="1" height="4" fill="#000"/>
<rect x="506" y="327" width="1" height="4" fill="#000"/>
<rect x="521" y="327" width="1" height="4" fill="#000"/>
<rect x="536" y="327" width="1" height="4" fill="#000"/>
<rect x="551" y="327" width="1" height="8" fill="#000"/>
<rect x="566" y="327" width="1" height="4" fill="#000"/>
<rect x="581" y="327" width="1" height="4" fill="#000"/>
<rect x="120" y="338" width="462" height="1" fill="#000"/>
<rect x="120" y="480" width="462" height="1" fill="#000"/>
<rect x="120" y="338" width="1" height="143" fill="#000"/>
<rect x="581" y="338" width="1" height="143" fill="#000"/>
<rect x="120" y="481" width="1" height="4" fill="#000"/>
<rect x="134" y="481" width="1" height="4" fill="#000"/>
<rect x="149" y="481" width="1" height="4" fill="#000"/>
<rect x="164" y="481" width="1" height="4" fill="#000"/>
<rect x="179" y="481" width="1" height="4" fill="#000"/>
<rect x="194" y="481" width="1" height="4" fill="#000"/>
<rect x="209" y="481" width="1" height="4" fill="#000"/>
<rect x="223" y="481" width="1" height="4" fill="#000"/>
<rect x="238" y="481" width="1" height="4" fill="#000"/>
<rect x="253" y="481" width="1" height="8" fill="#000"/>
<rect x="268" y="481" width="1" height="4" fill="#000"/>
<rect x="283" y="481" width="1" height="4" fill="#000"/>
<rect x="298" y="481" width="1" height="4" fill="#000"/>
<rect x="313" y="481" width="1" height="4" fill="#000"/>
<rect x="328" y="481" width="1" height="4" fill="#000"/>
<rect x="343" y="481" width="1" height="4" fill="#000"/>
<rect x="357" y="481" width="1" height="4" fill="#000"/>
<rect x="372" y="481" width="1" height="4" fill="#000"/>
<rect x="387" y="481" width="1" height="4" fill="#000"/>
<rect x="402" y="481" width="1" height="8" fill="#000"/>
<rect x="417" y="481" width="1" height="4" fill="#000"/>
<rect x="432" y="481" width="1" height="4" fill="#000"/>
<rect x="447" y="481" width="1" height="4" fill="#000"/>
<rect x="462" y="481" width="1" height="4" fill="#000"/>
<rect x="476" y="481" width="1" height="4" fill="#000"/>
<rect x="491" y="481" width="1" height="4" fill="#000"/>
<rect x="506" y="481" width="1" height="4" fill="#000"/>
<rect x="521" y="481" width="1" height="4" fill="#000"/>
<rect x="536" y="481" width="1" height="4" fill="#000"/>
<rect x="551" y="481" width="1" height="8" fill="#000"/>
<rect x="566" y="481" width="1" height="4" fill="#000"/>
<rect x="581" y="481" width="1" height="4" fill="#000"/>
<rect x="112" y="165" width="8" height="1" fill="#000"/>
<rect x="116" y="149" width="4" height="1" fill="#000"/>
<rect x="112" y="134" width="8" height="1" fill="#000"/>
<rect x="116" y="118" width="4" height="1" fill="#000"/>
<rect x="112" y="103" width="8" height="1" fill="#000"/>
<rect x="116" y="87" width="4" height="1" fill="#000"/>
<rect x="112" y="72" width="8" height="1" fill="#000"/>
<rect x="116" y="56" width="4" height="1" fill="#000"/>
<rect x="112" y="41" width="8" height="1" fill="#000"/>
<rect x="116" y="189" width="4" height="1" fill="#000"/>
<rect x="116" y="196" width="4" height="1" fill="#000"/>
<rect x="116" y="203" width="4" height="1" fill="#000"/>
<rect x="116" y="210" width="4" height="1" fill="#000"/>
<rect x="112" y="217" width="8" height="1" fill="#000"/>
<rect x="116" y="224" width="4" height="1" fill="#000"/>
<rect x="116" y="231" width="4" height="1" fill="#000"/>
<rect x="116" y="238" width="4" height="1" fill="#000"/>
<rect x="116" y="245" width="4" height="1" fill="#000"/>
<rect x="112" y="252" width="8" height="1" fill="#000"/>
<rect x="116" y="259" width="4" height="1" fill="#000"/>
<rect x="116" y="266" width="4" height="1" fill="#000"/>
<rect x="116" y="273" width="4" height="1" fill="#000"/>
<rect x="116" y="280" width="4" height="1" fill="#000"/>
<rect x="112" y="287" width="8" height="1" fill="#000"/>
<rect x="116" y="294" width="4" height="1" fill="#000"/>
<rect x="116" y="301" width="4" height="1" fill="#000"/>
<rect x="116" y="308" width="4" height="1" fill="#000"/>
<rect x="116" y="315" width="4" height="1" fill="#000"/>
<rect x="112" y="322" width="8" height="1" fill="#000"/>
<rect x="116" y="479" width="4" height="1" fill="#000"/>
<rect x="116" y="477" width="4" height="1" fill="#000"/>
<rect x="116" y="475" width="4" height="1" fill="#000"/>
<rect x="112" y="473" width="8" height="1" fill="#000"/>
<rect x="116" y="472" width="4" height="1" fill="#000"/>
<rect x="116" y="470" width="4" height="1" fill="#000"/>
<rect x="116" y="468" width="4" height="1" fill="#000"/>
<rect x="116" y="466" width="4" height="1" fill="#000"/>
<rect x="116" y="464" width="4" height="1" fill="#000"/>
<rect x="116" y="462" width="4" height="1" fill="#000"/>
<rect x="116" y="460" width="4" height="1" fill="#000"/>
<rect x="116" y="459" width="4" height="1" fill="#000"/>
<rect x="116" y="457" width="4" height="1" fill="#000"/>
<rect x="112" y="455" width="8" height="1" fill="#000"/>
<rect x="116" y="453" width="4" height="1" fill="#000"/>
<rect x="116" y="451" width="4" height="1" fill="#000"/>
<rect x="116" y="449" width="4" height="1" fill="#000"/>
<rect x="116" y="447" width="4" height="1" fill="#000"/>
<rect x="116" y="446" width="4" height="1" fill="#000"/>
<rect x="116" y="444" width="4" height="1" fill="#000"/>
<rect x="116" y="442" width="4" height="1" fill="#000"/>
<rect x="116" y="440" width="4" height="1" fill="#000"/>
<rect x="116" y="438" width="4" height="1" fill="#000"/>
<rect x="112" y="436" width="8" height="1" fill="#000"/>
<rect x="116" y="435" width="4" height="1" fill="#000"/>
<rect x="116" y="433" width="4" height="1" fill="#000"/>
<rect x="116" y="431" width="4" height="1" fill="#000"/>
<rect x="116" y="429" width="4" height="1" fill="#000"/>
<rect x="116" y="427" width="4" height="1" fill="#000"/>
<rect x="116" y="425" width="4" height="1" fill="#000"/>
<rect x="116" y="423" width="4" height="1" fill="#000"/>
<rect x="116" y="422" width="4" height="1" fill="#000"/>
<rect x="116" y="420" width="4" height="1" fill="#000"/>
<rect x="112" y="418" width="8" height="1" fill="#000"/>
<rect x="116" y="416" width="4" height="1" fill="#000"/>
<rect x="116" y="414" width="4" height="1" fill="#000"/>
<rect x="116" y="412" width="4" height="1" fill="#000"/>
<rect x="116" y="410" width="4" height="1" fill="#000"/>
<rect x="116" y="409" width="4" height="1" fill="#000"/>
<rect x="116" y="407" width="4" height="1" fill="#000"/>
<rect x="116" y="405" width="4" height="1" fill="#000"/>
<rect x="116" y="403" width="4" height="1" fill="#000"/>
<rect x="116" y="401" width="4" height="1" fill="#000"/>
<rect x="112" y="399" width="8" height="1" fill="#000"/>
<rect x="116" y="398" width="4" height="1" fill="#000"/>
<rect x="116" y="396" width="4" height="1" fill="#000"/>
<rect x="116" y="394" width="4" height="1" fill="#000"/>
<rect x="116" y="392" width="4" height="1" fill="#000"/>
<rect x="116" y="390" width="4" height="1" fill="#000"/>
<rect x="116" y="388" width="4" height="1" fill="#000"/>
<rect x="116" y="386" width="4" height="1" fill="#000"/>
<rect x="116" y="385" width="4" height="1" fill="#000"/>
<rect x="116" y="383" width="4" height="1" fill="#000"/>
<rect x="112" y="381" width="8" height="1" fill="#000"/>
<rect x="116" y="379" width="4" height="1" fill="#000"/>
<rect x="116" y="377" width="4" height="1" fill="#000"/>
<rect x="116" y="375" width="4" height="1" fill="#000"/>
<rect x="116" y="373" width="4" height="1" fill="#000"/>
<rect x="116" y="372" width="4" height="1" fill="#000"/>
<rect x="116" y="370" width="4" height="1" fill="#000"/>
<rect x="116" y="368" width="4" height="1" fill="#000"/>
<rect x="116" y="366" width="4" height="1" fill="#000"/>
<rect x="116" y="364" width="4" height="1" fill="#000"/>
<rect x="112" y="362" width="8" height="1" fill="#000"/>
<rect x="116" y="361" width="4" height="1" fill="#000"/>
<rect x="116" y="359" width="4" height="1" fill="#000"/>
<rect x="116" y="357" width="4" height="1" fill="#000"/>
<rect x="116" y="355" width="4" height="1" fill="#000"/>
<rect x="116" y="353" width="4" height="1" fill="#000"/>
<rect x="116" y="351" width="4" height="1" fill="#000"/>
<rect x="116" y="349" width="4" height="1" fill="#000"/>
<rect x="116" y="348" width="4" height="1" fill="#000"/>
<rect x="116" y="346" width="4" height="1" fill="#000"/>
<rect x="112" y="344" width="8" height="1" fill="#000"/>
<rect x="116" y="342" width="4" height="1" fill="#000"/>
<rect x="116" y="340" width="4" height="1" fill="#000"/>
<rect x="116" y="338" width="4" height="1" fill="#000"/>
</g>
<clipPath id="c1"><rect x="121" y="31" width="460" height="141"/></clipPath>
<polyline clip-path="url(#c1)" points="120.5,124.17 121.5,124.17 121.5,144.83 122.5,144.83 123.5,144.83 123.5,155.17 124.5,155.17 125.5,150.0 126.5,150.0 127.5,124.17 128.5,124.17 129.5,139.67 130.5,139.67 131.5,144.83 132.5,144.83 133.5,139.67 134.5,139.67 135.5,139.67 136.5,139.67 136.5,134.5 137.5,134.5 138.5,139.67 139.5,139.67 140.5,134.5 141.5,134.5 142.5,150.0 143.5,150.0 144.5,144.83 145.5,144.83 146.5,150.0 147.5,150.0 147.5,124.17 148.5,124.17 149.5,124.17 149.5,129.33 150.5,129.33 151.5,155.17 152.5,155.17 153.5,165.5 154.5,165.5 155.5,165.5 156.5,165.5 157.5,155.17 158.5,155.17 159.5,139.67 160.5,139.67 160.5,144.83 161.5,144.83 162.5,144.83 162.5,165.5 163.5,165.5 164.5,160.33 165.5,160.33 166.5,150.0 167.5,150.0 168.5,160.33 169.5,160.33 170.5,155.17 171.5,155.17 172.5,160.33 173.5,160.33 174.5,160.33 175.5,160.33 175.5,155.17 176.5,155.17 177.5,155.17 177.5,165.5 178.5,165.5 179.5,165.5 180.5,165.5 181.5,165.5 182.5,165.5 183.5,144.83 184.5,144.83 185.5,144.83 186.5,144.83 187.5,144.83 188.5,144.83 188.5,150.0 189.5,150.0 190.5,150.0 191.5,150.0 192.5,150.0 193.5,150.0 194.5,139.67 195.5,139.67 196.5,129.33 197.5,129.33 198.5,139.67 199.5,139.67 199.5,144.83 200.5,144.83 201.5,144.83 201.5,119.0 202.5,119.0 203.5,119.0 203.5,129.33 204.5,129.33 205.5,144.83 206.5,144.83 207.5,150.0 208.5,150.0 209.5,134.5 210.5,134.5 211.5,139.67 212.5,139.67 213.5,139.67 214.5,139.67 214.5,144.83 215.5,144.83 216.5,144.83 217.5,144.83 218.5,124.17 219.5,124.17 220.5,155.17 221.5,155.17 222.5,160.33 223.5,160.33 224.5,165.5 225.5,165.5 225.5,160.33 226.5,160.33 227.5,160.33 227.5,139.67 228.5,139.67 229.5,139.67 230.5,139.67 231.5,144.83 232.5,144.83 233.5,150.0 234.5,150.0 235.5,160.33 236.5,160.33 237.5,155.17 238.5,155.17 238.5,165.5 239.5,165.5 240.5,165.5 240.5,155.17 241.5,155.17 242.5,155.17 242.5,165.5 243.5,165.5 244.5,160.33 245.5,160.33 246.5,165.5 247.5,165.5 248.5,165.5 249.5,165.5 250.5,165.5 251.5,165.5 252.5,165.5 253.5,165.5 254.5,165.5 255.5,165.5 256.5,165.5 257.5,165.5 258.5,165.5 259.5,165.5 260.5,165.5 261.5,155.17 262.5,155.17 263.5,150.0 264.5,150.0 265.5,160.33 266.5,160.33 267.5,160.33 268.5,160.33 268.5,155.17 269.5,155.17 270.5,165.5 271.5,165.5 272.5,165.5 273.5,165.5 274.5,155.17 275.5,155.17 276.5,150.0 277.5,150.0 278.5,144.83 279.5,144.83 279.5,155.17 280.5,155.17 281.5,155.17 281.5,160.33 282.5,160.33 283.5,139.67 284.5,139.67 285.5,144.83 286.5,144.83 287.5,150.0 288.5,150.0 289.5,155.17 290.5,155.17 291.5,165.5 292.5,165.5 292.5,160.33 293.5,160.33 294.5,160.33 294.5,155.17 295.5,155.17 296.5,150.0 297.5,150.0 298.5,150.0 299.5,150.0 300.5,165.5 301.5,165.5 302.5,165.5 303.5,165.5 304.5,160.33 305.5,160.33 305.5,150.0 306.5,150.0 307.5,150.0 307.5,139.67 308.5,139.67 309.5,150.0 310.5,150.0 311.5,155.17 312.5,155.17 313.5,155.17 314.5,155.17 315.5,160.33 316.5,160.33 317.5,165.5 318.5,165.5 318.5,150.0 319.5,150.0 320.5,150.0 321.5,150.0 322.5,150.0 322.5,144.83 323.5,144.83 324.5,139.67 325.5,139.67 326.5,160.33 327.5,160.33 328.5,134.5 329.5,134.5 330.5,144.83 331.5,144.83 331.5,155.17 332.5,155.17 333.5,155.17 333.5,160.33 334.5,160.33 335.5,160.33 336.5,160.33 337.5,134.5 338.5,134.5 339.5,124.17 340.5,124.17 341.5,139.67 342.5,139.67 343.5,155.17 344.5,155.17 344.5,124.17 345.5,124.17 346.5,124.17 346.5,129.33 347.5,129.33 348.5,129.33 348.5,124.17 349.5,124.17 350.5,119.0 351.5,119.0 352.5,119.0 353.5,119.0 354.5,119.0 355.5,119.0 356.5,113.83 357.5,113.83 357.5,119.0 358.5,119.0 359.5,119.0 359.5,108.67 360.5,108.67 361.5,108.67 361.5,129.33 362.5,129.33 363.5,134.5 364.5,134.5 365.5,139.67 366.5,139.67 367.5,139.67 368.5,139.67 369.5,144.83 370.5,144.83 370.5,150.0 371.5,150.0 372.5,150.0 372.5,129.33 373.5,129.33 374.5,129.33 375.5,129.33 376.5,124.17 377.5,124.17 378.5,103.5 379.5,103.5 380.5,144.83 381.5,144.83 382.5,124.17 383.5,124.17 383.5,144.83 384.5,144.83 385.5,144.83 385.5,134.5 386.5,134.5 387.5,134.5 388.5,134.5 389.5,144.83 390.5,144.83 391.5,139.67 392.5,139.67 393.5,134.5 394.5,134.5 395.5,124.17 396.5,124.17 396.5,129.33 397.5,129.33 398.5,129.33 398.5,139.67 399.5,139.67 400.5,139.67 400.5,124.17 401.5,124.17 402.5,134.5 403.5,134.5 404.5,155.17 405.5,155.17 406.5,155.17 407.5,155.17 408.5,139.67 409.5,139.67 410.5,134.5 411.5,134.5 411.5,124.17 412.5,124.17 413.5,124.17 413.5,119.0 414.5,119.0 415.5,139.67 416.5,139.67 417.5,139.67 418.5,139.67 419.5,129.33 420.5,129.33 421.5,150.0 422.5,150.0 423.5,139.67 424.5,139.67 425.5,139.67 426.5,139.67 426.5,160.33 427.5,160.33 428.5,165.5 429.5,165.5 430.5,165.5 431.5,165.5 432.5,165.5 433.5,165.5 434.5,155.17 435.5,155.17 436.5,144.83 437.5,144.83 437.5,134.5 438.5,134.5 439.5,134.5 439.5,124.17 440.5,124.17 441.5,124.17 442.5,124.17 443.5,160.33 444.5,160.33 445.5,150.0 446.5,150.0 447.5,144.83 448.5,144.83 449.5,108.67 450.5,108.67 450.5,113.83 451.5,113.83 452.5,113.83 452.5,108.67 453.5,108.67 454.5,108.67 454.5,113.83 455.5,113.83 456.5,124.17 457.5,124.17 458.5,129.33 459.5,129.33 460.5,108.67 461.5,108.67 462.5,119.0 463.5,119.0 464.5,119.0 465.5,119.0 465.5,124.17 466.5,124.17 467.5,124.17 467.5,144.83 468.5,144.83 469.5,155.17 470.5,155.17 471.5,155.17 472.5,155.17 473.5,165.5 474.5,165.5 475.5,150.0 476.5,150.0 476.5,139.67 477.5,139.67 478.5,139.67 478.5,155.17 479.5,155.17 480.5,155.17 480.5,160.33 481.5,160.33 482.5,144.83 483.5,144.83 484.5,155.17 485.5,155.17 486.5,139.67 487.5,139.67 488.5,119.0 489.5,119.0 489.5,108.67 490.5,108.67 491.5,108.67 491.5,103.5 492.5,103.5 493.5,103.5 493.5,98.33 494.5,98.33 495.5,134.5 496.5,134.5 497.5,113.83 498.5,113.83 499.5,119.0 500.5,119.0 501.5,82.83 502.5,82.83 502.5,98.33 503.5,98.33 504.5,98.33 504.5,82.83 505.5,82.83 506.5,82.83 506.5,113.83 507.5,113.83 508.5,139.67 509.5,139.67 510.5,129.33 511.5,129.33 512.5,124.17 513.5,124.17 514.5,124.17 515.5,124.17 515.5,129.33 516.5,129.33 517.5,129.33 518.5,129.33 519.5,129.33 519.5,124.17 520.5,124.17 521.5,129.33 522.5,129.33 523.5,134.5 524.5,134.5 525.5,139.67 526.5,139.67 527.5,139.67 528.5,139.67 528.5,150.0 529.5,150.0 530.5,150.0 530.5,160.33 531.5,160.33 532.5,160.33 532.5,129.33 533.5,129.33 534.5,139.67 535.5,139.67 536.5,150.0 537.5,150.0 538.5,150.0 539.5,150.0 540.5,155.17 541.5,155.17 541.5,160.33 542.5,160.33 543.5,160.33 543.5,165.5 544.5,165.5 545.5,165.5 546.5,165.5 547.5,165.5 548.5,165.5 549.5,155.17 550.5,155.17 551.5,150.0 552.5,150.0 553.5,160.33 554.5,160.33 555.5,160.33 556.5,160.33 556.5,155.17 557.5,155.17 558.5,155.17 558.5,165.5 559.5,165.5 560.5,160.33 561.5,160.33 562.5,165.5 563.5,165.5 564.5,165.5 565.5,165.5 566.5,165.5 567.5,165.5 568.5,160.33 569.5,160.33 569.5,165.5 570.5,165.5 571.5,165.5 572.5,165.5 573.5,155.17 574.5,155.17 575.5,144.83 576.5,144.83 577.5,160.33 578.5,160.33 579.5,160.33 580.5,160.33 581.5,165.5 582.5,165.5" fill="none" stroke="#000" stroke-width="1"/>
<polyline points="120.89,225.13 122.33,226.57 123.77,224.17 125.22,221.76 126.18,217.91 126.85,214.06 127.62,213.1 128.11,215.5 128.59,204.44 129.55,202.51 131.95,202.51 132.92,204.92 133.88,209.73 134.84,210.69 135.8,217.91 136.77,218.39 137.54,204.44 138.4,210.21 139.17,218.87 139.65,227.05 140.62,229.27 141.58,224.65 142.54,217.91 143.5,216.47 144.95,215.79 145.91,216.95 146.58,219.35 147.83,211.65 148.8,213.1 149.28,217.43 150.24,216.95 151.49,219.35 152.65,217.43 153.8,216.47 155.05,217.91 156.5,216.47 157.46,218.87 157.94,221.28 159.38,220.8 160.83,218.39 161.79,219.83 162.75,224.65 163.71,226.57 164.97,226.09 165.83,223.68 167.08,221.76 168.53,217.91 170.45,215.5 171.41,217.43 173.34,219.35 174.78,218.39 176.23,217.91 177.48,214.54 178.63,216.95 180.08,215.98 181.85,214.54 183.29,215.02 184.74,215.5 185.89,218.39 187.14,215.02 188.39,214.54 189.36,213.58 190.03,211.65 190.99,214.06 191.67,217.43 192.92,218.39 193.88,221.76 194.84,224.17 196.77,224.45 198.4,225.13 199.65,223.2 200.62,221.76 201.58,226.09 202.83,224.17 203.5,223.68 204.47,228.98 205.43,226.09 206.39,225.8 207.35,228.02 208.32,225.13 209.76,224.17 210.91,222.72 211.88,219.35 212.84,221.28 213.8,220.03 214.57,221.76 215.53,219.83 216.5,220.32 217.46,223.68 218.23,224.45 219.19,219.35 220.15,217.43 221.12,218.87 222.27,222.72 223.23,223.49 224.68,222.72 225.64,221.28 227.08,221.28 228.05,223.2 229.01,224.17 230.45,223.68 231.41,222.72 232.38,226.09 233.34,222.72 234.3,221.76 235.74,222.72 237.67,223.2 239.44,224.17 240.89,221.76 242.62,219.35 243.77,221.76 244.93,222.53 246.18,217.91 247.43,213.58 248.59,216.95 250.03,215.5 251.47,215.98 253.4,215.98 254.55,214.54 255.52,212.62 256.77,213.87 258.02,212.62 259.37,210.21 260.62,208.48 261.58,213.1 262.54,214.06 263.5,216.95 264.47,217.43 265.91,219.35 266.87,220.8 268.6,222.24 269.76,218.87 271.2,215.98 272.17,215.22 274.09,214.83 274.76,208.77 275.73,207.52 276.69,212.14 277.65,213.1 278.42,214.06 279.58,210.69 280.54,211.65 281.5,214.06 282.75,212.62 283.71,213.1 284.87,208.77 285.83,209.73 286.79,209.73 287.76,215.02 288.72,217.91 289.68,217.91 290.93,210.69 292.38,209.25 293.82,207.32 294.59,207.8 295.55,218.87 296.71,220.32 297.67,222.24 299.44,216.47 300.89,216.47 301.85,217.43 303.29,215.5 304.26,215.02 304.93,210.69 306.18,210.21 306.85,212.62 307.62,210.69 308.59,212.14 310.03,215.02 311.47,216.95 312.92,217.91 313.88,220.8 315.13,222.24 316.29,217.43 317.54,212.62 318.69,213.1 319.94,212.91 320.91,209.73 322.06,208.77 323.5,206.55 324.47,207.32 325.43,210.21 326.68,213.1 327.83,210.21 328.8,214.06 329.76,216.47 330.72,219.35 331.68,217.91 332.45,217.43 333.42,221.28 334.57,217.91 336.02,215.5 336.98,209.25 337.94,206.55 338.42,208.29 339.58,215.22 340.54,211.65 341.5,208.29 342.75,210.21 343.71,207.32 344.68,205.4 346.12,207.8 347.08,215.02 348.05,219.83 348.82,224.17 349.78,217.91 350.64,215.5 351.41,219.83 351.89,226.57 352.86,228.98 354.01,228.5 354.78,223.68 355.74,221.28 356.9,222.72 357.67,226.09 359.44,223.88 360.69,223.68 361.85,227.05 362.81,231.38 363.77,228.98 364.74,220.8 365.7,216.47 366.66,218.87 367.62,216.47 369.07,214.54 370.03,216.47 371.47,217.43 372.92,220.8 374.36,221.28 375.52,219.83 376.77,221.28 378.02,223.88 379.17,224.17 380.33,218.39 381.39,216.47 382.54,220.6 383.98,221.28 385.43,220.99 386.68,223.2 387.64,226.38 388.8,220.8 390.24,217.91 391.2,219.83 392.65,222.72 394.09,223.2 395.53,219.35 396.5,214.83 397.94,215.22 398.9,219.83 400.15,223.2 401.31,222.72 402.75,224.17 404.0,219.83 405.16,218.39 406.6,218.1 407.56,219.35 408.82,216.95 409.97,217.43 411.41,214.83 412.38,215.98 413.82,220.03 415.55,215.5 416.71,217.91 418.0,222.24 419.15,222.24 420.12,216.95 421.37,215.5 422.33,218.87 423.58,219.83 424.54,225.61 425.51,228.98 426.47,226.09 427.14,219.35 428.11,217.43 429.55,219.35 430.99,219.83 432.92,218.87 434.17,216.18 435.8,217.43 437.25,217.43 438.4,219.35 439.65,217.91 441.58,217.72 442.54,215.5 443.79,213.58 444.95,214.06 446.39,211.65 447.35,213.1 448.32,207.52 449.28,210.69 450.24,226.09 450.91,219.83 452.17,219.35 452.84,227.53 453.8,231.38 454.57,226.57 455.53,230.9 456.5,224.65 457.46,223.2 458.42,218.68 459.38,223.68 460.83,228.5 462.27,229.27 463.43,229.94 464.68,228.02 465.93,226.09 467.08,221.76 468.53,215.5 469.49,217.91 470.45,220.8 471.7,218.68 473.34,217.91 474.78,217.43 475.74,212.62 476.51,210.69 477.48,215.02 479.44,215.36 480.89,216.32 482.81,216.32 484.26,215.55 484.93,211.7 486.18,211.51 486.85,216.03 488.11,216.99 489.07,222.29 490.32,229.02 491.47,235.76 492.24,243.46 493.4,251.64 494.17,251.16 494.84,240.57 495.8,234.8 496.29,233.83 496.77,237.68 497.25,231.91 498.21,224.69 499.37,224.69 500.62,225.94 501.58,224.21 502.06,227.58 502.83,223.25 503.5,222.48 504.18,226.14 504.95,234.8 505.72,239.13 506.58,232.87 507.35,235.76 508.8,235.76 510.24,237.2 511.68,234.32 512.45,231.43 513.42,225.65 514.57,224.98 515.73,223.73 516.98,224.98 518.9,225.94 520.35,224.21 521.5,224.4 522.46,226.62 523.71,229.22 524.97,226.91 526.12,227.58 527.28,227.87 528.24,229.98 529.49,229.22 530.45,224.69 531.41,222.09 532.38,223.25 533.34,225.65 534.3,227.1 535.55,224.69 536.71,225.94 538.15,226.62 540.08,225.65 542.0,223.73 543.17,221.57 545.1,221.76 546.54,222.24 547.79,220.8 548.95,221.28 550.1,222.24 551.35,219.64 552.6,221.28 553.76,221.76 555.2,221.28 556.45,221.57 557.42,224.17 558.38,225.13 559.53,222.24 560.98,220.8 562.42,218.87 563.86,216.95 565.12,216.18 566.75,216.75 568.2,217.91 569.64,216.95 571.08,216.47 572.53,213.58 573.49,215.98 574.45,217.43 575.89,215.5 577.34,214.54 578.78,211.65 579.74,210.21 580.9,208.77" fill="none" stroke="#000" stroke-width="1.1" stroke-linejoin="round"/>
<text x="100" y="169.9" >0</text>
<text x="92 100" y="138.9" >20</text>
<text x="92 100" y="107.9" >40</text>
<text x="92 100" y="76.9" >60</text>
<text x="92 100" y="45.900000000000006" >80</text>
<text x="100" y="222" >0</text>
<text x="88 92 100" y="257" >-50</text>
<text x="80 84 92 100" y="292" >-100</text>
<text x="80 84 92 100" y="327" >-150</text>
<text x="96 100" y="478" >-1</text>
<text x="100" y="460" >0</text>
<text x="100" y="441" >1</text>
<text x="100" y="423" >2</text>
<text x="100" y="404" >3</text>
<text x="100" y="386" >4</text>
<text x="100" y="367" >5</text>
<text x="100" y="349" >6</text>
<text x="217 225 233 241 249 253 261 270 273 281" y="504" >2006-01-10</text>
<text x="366 374 382 390 398 402 410 419 422 430" y="504" >2006-01-20</text>
<text x="515 523 531 539 547 551 559 568 571 579" y="504" >2006-01-30</text>
<text x="617 625" y="475">10</text><text x="633 637" y="469">-1</text>
<text x="617 625" y="442">10</text><text x="633" y="436">0</text>
<text x="617 625" y="410">10</text><text x="633" y="404">1</text>
<text x="617 625" y="378">10</text><text x="633" y="372">2</text>
<text x="617 625" y="346">10</text><text x="633" y="340">3</text>
<text transform="translate(46.5,101.5) rotate(-90)" x="-8.0 0.0" y="0">Kp</text>
<text transform="translate(59,104) rotate(-90)" x="-44.0 -39.0 -32.0 -28.0 -20.0 -16.0 -12.0 -4.0 6.0 10.0 20.0 24.0 32.0 40.0" y="0">(e.g. 3+ = 33,</text>
<text transform="translate(71,104) rotate(-90)" x="-25.0 -17.0 -13.0 -9.0 1.0 5.0 13.0 21.0" y="0">6- = 57,</text>
<text transform="translate(83,103.2) rotate(-90)" x="-39.0 -31.0 -27.0 -17.0 -13.0 -5.0 3.0 7.0 11.0 18.0 23.0 30.0 34.0" y="0">4 = 40, etc.)</text>
<text transform="translate(71,255) rotate(-90)" x="-12.0 -3.0 5.0" y="0">DST</text>
<text transform="translate(87,409) rotate(-90)" x="-34.0 -27.0 -22.0 -15.0 -10.0 -3.0 5.0 9.0 16.0 19.0 27.0" y="0">Proton Flux</text>
</svg>
</body></html>
